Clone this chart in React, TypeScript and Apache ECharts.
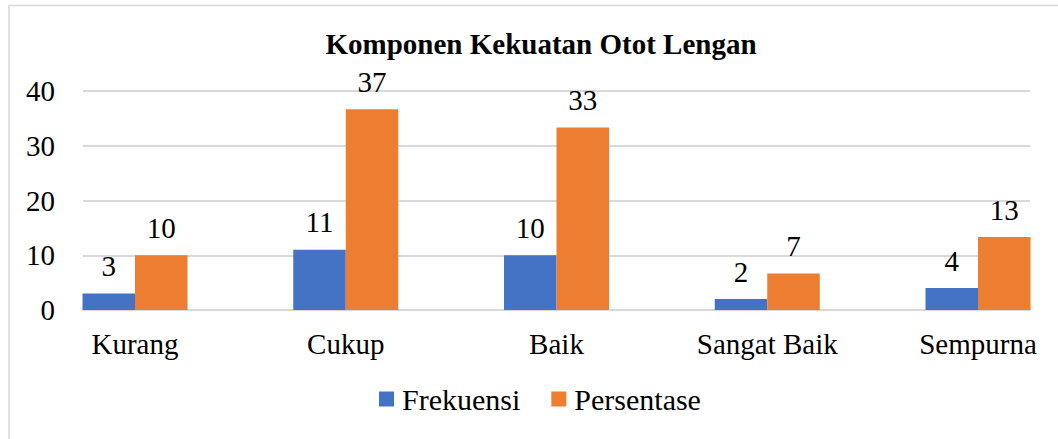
import React, { useEffect, useRef } from "react";
import * as echarts from "echarts";

const categories = ["Kurang", "Cukup", "Baik", "Sangat Baik", "Sempurna"];
const frekuensi = [3, 11, 10, 2, 4];
const persentase = [10, 36.67, 33.33, 6.67, 13.33];
const yTicks = { min: 0, max: 40, interval: 10 };

const FONT = "'Liberation Serif', serif";
const FS = 29;

export default function App() {
  const ref = useRef<HTMLDivElement>(null);
  useEffect(() => {
    if (!ref.current) return;
    const chart = echarts.init(ref.current, null, { renderer: "svg" });
    const labelStyle = {
      show: true,
      position: "top" as const,
      distance: 13,
      fontFamily: FONT,
      fontSize: FS,
      color: "#000",
      formatter: (p: any) => String(Math.round(p.value)),
    };
    chart.setOption({
      animation: false,
      backgroundColor: "#fff",
      title: {
        text: "Komponen Kekuatan Otot Lengan",
        left: 536,
        textAlign: "center",
        top: 24,
        textStyle: { fontFamily: FONT, fontSize: FS, fontWeight: "bold", color: "#000" },
      },
      graphic: [
        {
          type: "rect",
          shape: { x: 9, y: 5.5, width: 1200, height: 600 },
          style: { fill: "none", stroke: "#d9d9d9", lineWidth: 1.5 },
          silent: true,
          z: 100,
        },
      ],
      legend: {
        bottom: 20,
        left: 374,
        icon: "rect",
        itemWidth: 15,
        itemHeight: 15,
        itemGap: 31,
        textStyle: { fontFamily: FONT, fontSize: 30, color: "#000", padding: [0, 0, 0, 3] },
        data: ["Frekuensi", "Persentase"],
      },
      grid: [
        { left: 135, right: 80, top: 91, bottom: 129, containLabel: false },
        { left: 83, right: 28, top: 91, bottom: 129, containLabel: false },
      ],
      xAxis: [
        {
          type: "category",
          gridIndex: 0,
          data: categories,
          boundaryGap: false,
          axisLine: { show: false },
          axisTick: { show: false },
          splitLine: { show: false },
          axisLabel: { fontFamily: FONT, fontSize: FS, color: "#000", margin: 19 },
        },
        {
          type: "value",
          gridIndex: 1,
          min: 0,
          max: 1,
          axisLine: { show: true, onZero: false, lineStyle: { color: "#d9d9d9", width: 2 } },
          axisTick: { show: false },
          axisLabel: { show: false },
          splitLine: { show: false },
        },
      ],
      yAxis: [
        {
          type: "value",
          gridIndex: 0,
          min: yTicks.min,
          max: yTicks.max,
          interval: yTicks.interval,
          axisLine: { show: false },
          axisTick: { show: false },
          splitLine: { show: false },
          axisLabel: { show: false },
        },
        {
          type: "value",
          gridIndex: 1,
          min: yTicks.min,
          max: yTicks.max,
          interval: yTicks.interval,
          axisLine: { show: false },
          axisTick: { show: false },
          splitLine: { lineStyle: { color: "#d9d9d9", width: 2 } },
          axisLabel: { fontFamily: FONT, fontSize: FS, color: "#000", margin: 28 },
        },
      ],
      series: [
        {
          name: "Frekuensi",
          type: "bar",
          xAxisIndex: 0,
          yAxisIndex: 0,
          data: frekuensi,
          itemStyle: { color: "#4472C4" },
          barWidth: 52.5,
          barGap: "0%",
          label: labelStyle,
          z: 3,
        },
        {
          name: "Persentase",
          type: "bar",
          xAxisIndex: 0,
          yAxisIndex: 0,
          data: persentase,
          itemStyle: { color: "#ED7D31" },
          barWidth: 52.5,
          barGap: "0%",
          label: labelStyle,
          z: 3,
        },
      ],
    });
    return () => chart.dispose();
  }, []);
  return (
    <div
      ref={ref}
      style={{ position: "fixed", left: 0, top: 0, width: 1058, height: 439 }}
    />
  );
}
